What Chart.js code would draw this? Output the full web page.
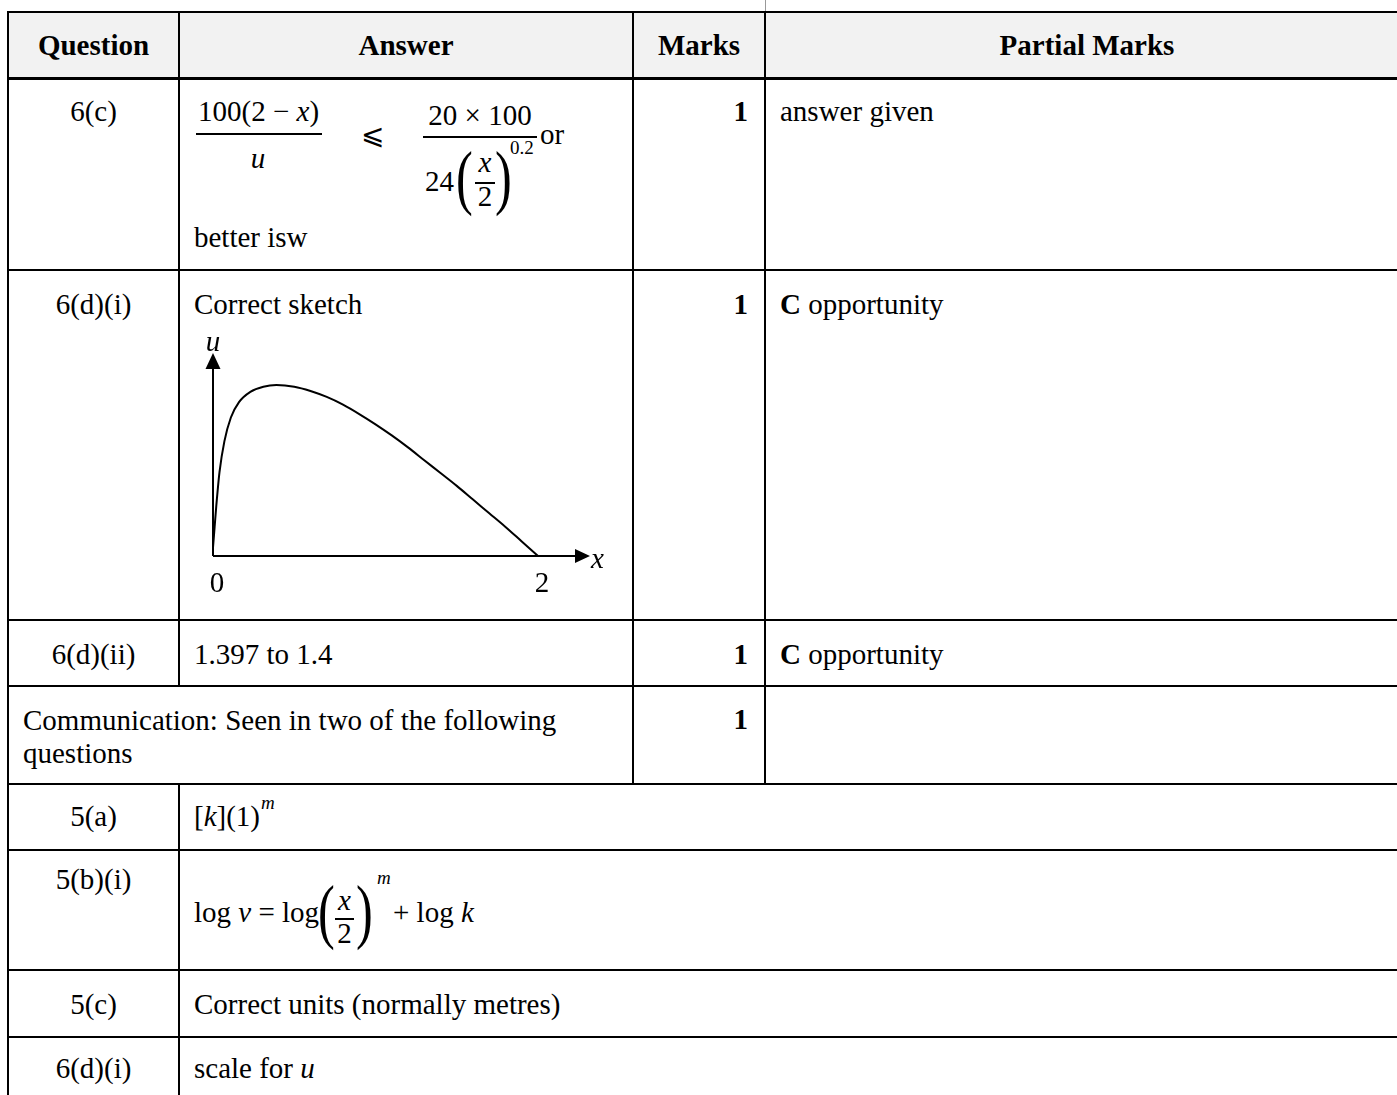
<!DOCTYPE html>
<html>
<head>
<meta charset="utf-8">
<title>Mark scheme – sketch of u against x</title>
<script src="https://cdn.jsdelivr.net/npm/chart.js@4.4.1/dist/chart.umd.min.js"></script>
<style>
  html, body { margin: 0; padding: 0; background: #fff; }
  body {
    width: 1397px; height: 1095px; overflow: hidden; position: relative;
    font-family: "Liberation Serif", "Times New Roman", "DejaVu Serif", serif;
    font-size: 29px; color: #000;
  }
  .t { position: absolute; white-space: nowrap; line-height: 32px; height: 32px; }
  .c { text-align: center; }
  .r { text-align: right; }
  .b { font-weight: bold; }
  .sup { font-size: 19px; }
  .big { position: absolute; font-size: 72px; line-height: 72px; transform: scaleX(0.7); transform-origin: left top; }
  .hl { position: absolute; background: #000; left: 8px; width: 1401px; height: 2px; }
  .vl { position: absolute; background: #000; width: 2px; }
  .bar { position: absolute; background: #000; height: 1.5px; }
  .head { position: absolute; left: 8px; top: 12px; width: 1401px; height: 66px; background: #f2f2f2; }
  #sketchWrap { position: absolute; left: 190px; top: 330px; width: 430px; height: 280px; }
</style>
</head>
<body>

<!-- header background -->
<div class="head"></div>

<!-- horizontal rules -->
<div class="hl" style="top:11px"></div>
<div class="hl" style="top:77px;height:3px"></div>
<div class="hl" style="top:269px"></div>
<div class="hl" style="top:619px"></div>
<div class="hl" style="top:685px"></div>
<div class="hl" style="top:783px"></div>
<div class="hl" style="top:849px"></div>
<div class="hl" style="top:969px"></div>
<div class="hl" style="top:1036px"></div>

<!-- vertical rules -->
<div class="vl" style="left:7px;top:11px;height:1084px"></div>
<div class="vl" style="left:178px;top:11px;height:675px"></div>
<div class="vl" style="left:178px;top:783px;height:312px"></div>
<div class="vl" style="left:632px;top:11px;height:773px"></div>
<div class="vl" style="left:764px;top:11px;height:773px"></div>
<div class="vl" style="left:765px;top:0;height:11px;width:1px;background:#999"></div>

<!-- header -->
<div class="t c b" style="left:8px;width:171px;top:29px">Question</div>
<div class="t c b" style="left:179px;width:454px;top:29px">Answer</div>
<div class="t c b" style="left:633px;width:132px;top:29px">Marks</div>
<div class="t c b" style="left:765px;width:644px;top:29px">Partial Marks</div>

<!-- 6(c) -->
<div class="t c" style="left:8px;width:171px;top:95px">6(c)</div>
<div class="t" style="left:198px;top:95px">100(2 − <i>x</i>)</div>
<div class="bar" style="left:196px;width:126px;top:133px"></div>
<div class="t c" style="left:248px;width:20px;top:142px"><i>u</i></div>
<div class="t" style="left:361px;top:119px;font-family:'DejaVu Serif','DejaVu Sans',serif;font-size:28px">⩽</div>
<div class="t c" style="left:423px;width:114px;top:99px">20 × 100</div>
<div class="bar" style="left:423px;width:114px;top:136px"></div>
<div class="t" style="left:425px;top:165px">24</div>
<div class="big" style="left:456px;top:141px">(</div>
<div class="t c" style="left:475px;width:20px;top:146px"><i>x</i></div>
<div class="bar" style="left:475px;width:20px;top:182px"></div>
<div class="t c" style="left:475px;width:20px;top:180px">2</div>
<div class="big" style="left:495px;top:141px">)</div>
<div class="t sup" style="left:510px;top:132px">0.2</div>
<div class="t" style="left:540px;top:118px">or</div>
<div class="t" style="left:194px;top:221px">better isw</div>
<div class="t r b" style="left:633px;width:115px;top:95px">1</div>
<div class="t" style="left:780px;top:95px">answer given</div>

<!-- 6(d)(i) -->
<div class="t c" style="left:8px;width:171px;top:288px">6(d)(i)</div>
<div class="t" style="left:194px;top:288px">Correct sketch</div>
<div class="t r b" style="left:633px;width:115px;top:288px">1</div>
<div class="t" style="left:780px;top:288px"><b>C</b> opportunity</div>
<div id="sketchWrap"><canvas id="sketch" width="430" height="280"></canvas></div>

<!-- 6(d)(ii) -->
<div class="t c" style="left:8px;width:171px;top:638px">6(d)(ii)</div>
<div class="t" style="left:194px;top:638px">1.397 to 1.4</div>
<div class="t r b" style="left:633px;width:115px;top:638px">1</div>
<div class="t" style="left:780px;top:638px"><b>C</b> opportunity</div>

<!-- communication -->
<div class="t" style="left:23px;top:704px">Communication: Seen in two of the following</div>
<div class="t" style="left:23px;top:737px">questions</div>
<div class="t r b" style="left:633px;width:115px;top:703px">1</div>

<!-- 5(a) -->
<div class="t c" style="left:8px;width:171px;top:800px">5(a)</div>
<div class="t" style="left:194px;top:800px">[<i>k</i>](1)</div>
<div class="t sup" style="left:261px;top:787px"><i>m</i></div>

<!-- 5(b)(i) -->
<div class="t c" style="left:8px;width:171px;top:863px">5(b)(i)</div>
<div class="t" style="left:194px;top:896px">log <i>v</i> = log</div>
<div class="big" style="left:318px;top:875px">(</div>
<div class="t c" style="left:335px;width:19px;top:884px"><i>x</i></div>
<div class="bar" style="left:335px;width:19px;top:918px"></div>
<div class="t c" style="left:335px;width:19px;top:917px">2</div>
<div class="big" style="left:356px;top:875px">)</div>
<div class="t sup" style="left:377px;top:862px"><i>m</i></div>
<div class="t" style="left:393px;top:896px">+ log <i>k</i></div>

<!-- 5(c) -->
<div class="t c" style="left:8px;width:171px;top:988px">5(c)</div>
<div class="t" style="left:194px;top:988px">Correct units (normally metres)</div>

<!-- 6(d)(i) scale -->
<div class="t c" style="left:8px;width:171px;top:1052px">6(d)(i)</div>
<div class="t" style="left:194px;top:1052px">scale for <i>u</i></div>

<script>
// Sketch of u against x
const sketchX = [0, 0.01, 0.02, 0.04, 0.07, 0.11, 0.16, 0.23, 0.31, 0.39, 0.5, 0.6, 0.7, 0.8, 0.9, 1.0, 1.1, 1.2, 1.3, 1.4, 1.5, 1.6, 1.7, 1.8, 1.9, 2.0];
const sketchU = [0.05, 0.17, 0.29, 0.49, 0.67, 0.81, 0.9, 0.96, 0.99, 1.0, 0.99, 0.965, 0.93, 0.885, 0.83, 0.77, 0.705, 0.635, 0.56, 0.485, 0.41, 0.33, 0.25, 0.17, 0.085, 0];
const xTicks = [0, 2];
const xTickLabels = ['0', '2'];
const xAxisLabel = 'x';
const yAxisLabel = 'u';

// Axes with arrowheads, drawn from the chart's own scales
const arrowAxes = {
  id: 'arrowAxes',
  beforeDatasetsDraw(chart) {
    const { ctx, chartArea: a, scales: { x, y } } = chart;
    const x0 = x.getPixelForValue(0);
    const y0 = y.getPixelForValue(0);
    ctx.save();
    ctx.strokeStyle = '#000';
    ctx.fillStyle = '#000';
    ctx.lineWidth = 2;
    ctx.beginPath();
    ctx.moveTo(x0, y0);
    ctx.lineTo(a.right - 12, y0);
    ctx.moveTo(x0, y0);
    ctx.lineTo(x0, a.top + 12);
    ctx.stroke();

    ctx.beginPath();
    ctx.moveTo(a.right, y0);
    ctx.lineTo(a.right - 15, y0 - 7);
    ctx.lineTo(a.right - 15, y0 + 7);
    ctx.closePath();
    ctx.moveTo(x0, a.top);
    ctx.lineTo(x0 - 7.5, a.top + 16);
    ctx.lineTo(x0 + 7.5, a.top + 16);
    ctx.closePath();
    ctx.fill();
    ctx.restore();
  },
  afterDraw(chart) {
    const { ctx, chartArea: a, scales: { x, y } } = chart;
    const x0 = x.getPixelForValue(0);
    const y0 = y.getPixelForValue(0);
    ctx.save();
    ctx.fillStyle = '#000';
    ctx.textBaseline = 'alphabetic';

    ctx.font = '29px "Liberation Serif", serif';
    ctx.textAlign = 'center';
    xTicks.forEach((v, i) => {
      ctx.fillText(xTickLabels[i], x.getPixelForValue(v) + 4, y0 + 36);
    });

    ctx.font = 'italic 29px "Liberation Serif", serif';
    ctx.fillText(yAxisLabel, x0, a.top - 2);
    ctx.textAlign = 'left';
    ctx.fillText(xAxisLabel, a.right + 1, y0 + 12);
    ctx.restore();
  }
};

const ctx = document.getElementById('sketch').getContext('2d');
new Chart(ctx, {
  type: 'line',
  data: {
    datasets: [{
      data: sketchX.map((v, i) => ({ x: v, y: sketchU[i] })),
      borderColor: '#000',
      borderWidth: 2,
      pointRadius: 0,
      fill: false,
      cubicInterpolationMode: 'monotone'
    }]
  },
  options: {
    responsive: false,
    animation: false,
    devicePixelRatio: 1,
    layout: { padding: { left: 23, right: 30, top: 23, bottom: 54 } },
    plugins: {
      legend: { display: false },
      tooltip: { enabled: false }
    },
    scales: {
      x: { type: 'linear', min: 0, max: 2.32, display: false },
      y: { min: 0, max: 1.187, display: false }
    }
  },
  plugins: [arrowAxes]
});
</script>
</body>
</html>
